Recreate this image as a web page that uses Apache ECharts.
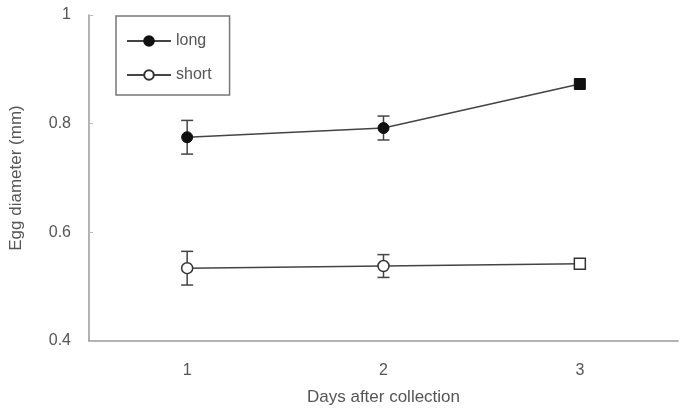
<!DOCTYPE html>
<html>
<head>
<meta charset="utf-8">
<script src="https://cdn.jsdelivr.net/npm/echarts@6/dist/echarts.min.js"></script>
<style>
  html, body { margin: 0; padding: 0; background: #fff; }
  #chart { width: 684px; height: 417px; }
</style>
</head>
<body>
<div id="chart"></div>
<script>
// data
const days = ['1', '2', '3'];
const longMean = [0.775, 0.792, 0.873];
const longErr = [0.031, 0.022, 0.0];
const shortMean = [0.534, 0.538, 0.542];
const shortErr = [0.031, 0.021, 0.0];
const pointSymbols = ['circle', 'circle', 'rect'];

function points(values) {
    return values.map((v, i) => ({ value: v, symbol: pointSymbols[i] }));
}

function errorData(mean, err) {
    return mean.map((m, i) => [i, m - err[i], m + err[i]]);
}

// error bars drawn with custom series
function renderErr(params, api) {
    const lo = api.coord([api.value(0), api.value(1)]);
    const hi = api.coord([api.value(0), api.value(2)]);
    if (Math.abs(lo[1] - hi[1]) < 1) return null;
    const half = 6;
    const style = { stroke: '#444', lineWidth: 1.5 };
    return {
        type: 'group',
        children: [
            { type: 'line', shape: { x1: lo[0], y1: lo[1], x2: hi[0], y2: hi[1] }, style: style },
            { type: 'line', shape: { x1: lo[0] - half, y1: lo[1], x2: lo[0] + half, y2: lo[1] }, style: style },
            { type: 'line', shape: { x1: hi[0] - half, y1: hi[1], x2: hi[0] + half, y2: hi[1] }, style: style }
        ]
    };
}

const chart = echarts.init(document.getElementById('chart'));
const textColor = '#555';
const font = 'Liberation Sans';

chart.setOption({
    animation: false,
    backgroundColor: '#fff',
    grid: { left: 88, right: 6, top: 15, bottom: 76 },
    legend: {
        data: ['long', 'short'],
        orient: 'vertical',
        left: 116,
        top: 16,
        padding: [17, 18, 12, 10],
        itemGap: 18,
        itemWidth: 44,
        itemHeight: 12,
        borderColor: '#777',
        borderWidth: 1.5,
        textStyle: { color: textColor, fontFamily: font, fontSize: 16 }
    },
    xAxis: {
        type: 'category',
        data: days,
        boundaryGap: true,
        name: 'Days after collection',
        nameLocation: 'middle',
        nameGap: 48,
        nameTextStyle: { color: textColor, fontFamily: font, fontSize: 17 },
        axisLine: { lineStyle: { color: '#999', width: 1.5 } },
        axisTick: { inside: true, length: 4, lineStyle: { color: '#999' } },
        axisLabel: { color: textColor, fontFamily: font, fontSize: 16, margin: 22 }
    },
    yAxis: {
        type: 'value',
        min: 0.4,
        max: 1,
        interval: 0.2,
        name: 'Egg diameter (mm)',
        nameLocation: 'middle',
        nameGap: 64,
        nameTextStyle: { color: textColor, fontFamily: font, fontSize: 17 },
        axisLine: { show: true, lineStyle: { color: '#999', width: 1.5 } },
        axisTick: { show: true, inside: true, length: 4, lineStyle: { color: '#bbb' } },
        splitLine: { show: false },
        axisLabel: {
            color: textColor, fontFamily: font, fontSize: 16, margin: 18,
            formatter: v => (v === 1 ? '1' : v.toFixed(1))
        }
    },
    series: [
        {
            name: 'long',
            type: 'line',
            symbol: 'circle',
            data: points(longMean),
            symbolSize: 11,
            lineStyle: { color: '#444', width: 1.5 },
            itemStyle: { color: '#111', borderColor: '#111', borderWidth: 1 },
            z: 3
        },
        {
            name: 'short',
            type: 'line',
            symbol: 'circle',
            data: points(shortMean),
            symbolSize: 11,
            lineStyle: { color: '#444', width: 1.5 },
            itemStyle: { color: '#fff', borderColor: '#333', borderWidth: 1.5 },
            z: 3
        },
        {
            type: 'custom',
            renderItem: renderErr,
            data: errorData(longMean, longErr),
            z: 2
        },
        {
            type: 'custom',
            renderItem: renderErr,
            data: errorData(shortMean, shortErr),
            z: 2
        }
    ]
});
</script>
</body>
</html>
